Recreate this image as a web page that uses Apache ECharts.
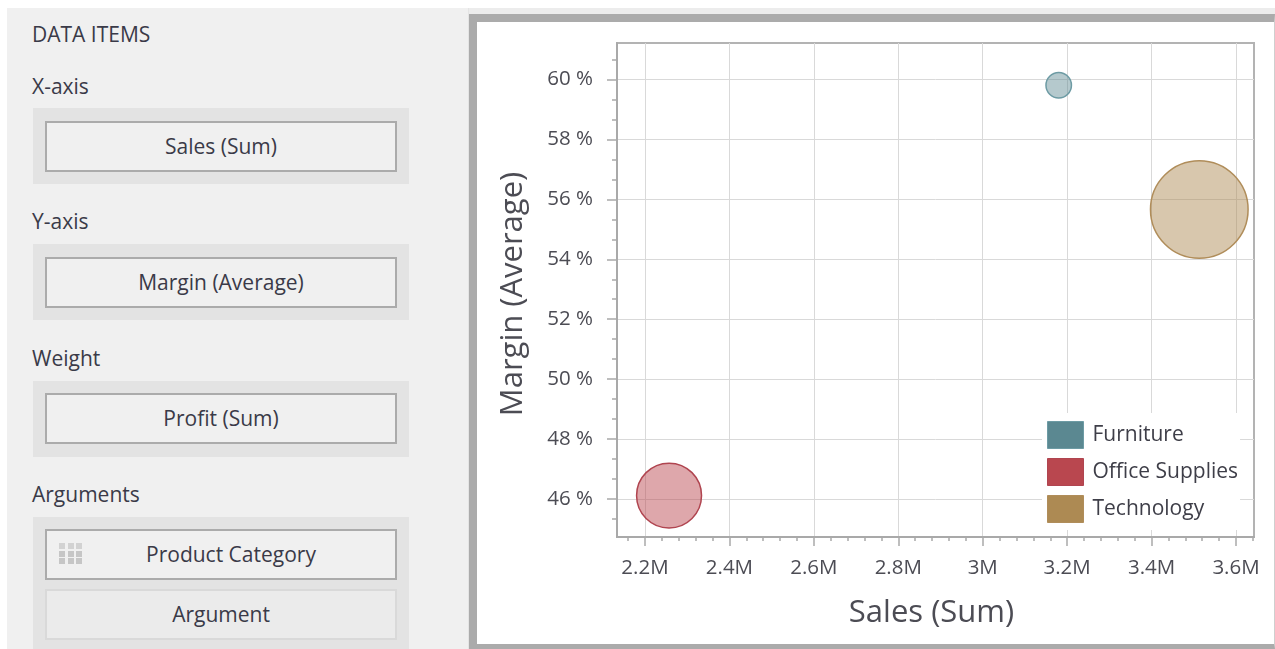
<!DOCTYPE html>
<html>
<head>
<meta charset="utf-8">
<script src="https://cdn.jsdelivr.net/npm/echarts@6/dist/echarts.min.js"></script>
<style>
html,body{margin:0;padding:0;background:#fff;width:1275px;height:649px;overflow:hidden;font-family:"Open Sans","Noto Sans",sans-serif;color:#3a3a48;}
.abs{position:absolute;}
#panel{left:7px;top:8px;width:461px;height:641px;background:#f0f0f0;border-right:1px solid #e4e4e4;}
#bg2{left:469px;top:8px;width:806px;height:641px;background:#ececec;}
#frame{left:469px;top:14px;width:797px;height:622px;border-left:8px solid #ababab;border-top:8px solid #ababab;border-bottom:5px solid #ababab;border-right:1px solid #cfcfcf;background:#fff;}
.lbl{font-size:21px;line-height:28px;left:32px;white-space:nowrap;}
.cont{left:33px;width:376px;height:76px;background:#e3e3e3;}
.btn{left:45px;width:348px;height:47px;border:2px solid #ababab;background:#f0f0f0;font-size:21px;line-height:47px;text-align:center;white-space:nowrap;}
.btn2{border-color:#d9d9d9;background:#ebebeb;}
.sq{width:6px;height:6px;background:#c6c6c6;}
#chart{left:0;top:0;width:1275px;height:649px;z-index:5;}
</style>
</head>
<body>
<div id="panel" class="abs"></div>
<div id="bg2" class="abs"></div>
<div id="frame" class="abs"></div>

<div class="abs lbl" style="top:20px;">DATA ITEMS</div>
<div class="abs lbl" style="top:72px;">X-axis</div>
<div class="abs cont" style="top:108px;"></div>
<div class="abs btn" style="top:121px;">Sales (Sum)</div>

<div class="abs lbl" style="top:207px;">Y-axis</div>
<div class="abs cont" style="top:244px;"></div>
<div class="abs btn" style="top:257px;">Margin (Average)</div>

<div class="abs lbl" style="top:344px;">Weight</div>
<div class="abs cont" style="top:381px;"></div>
<div class="abs btn" style="top:393px;">Profit (Sum)</div>

<div class="abs lbl" style="top:480px;">Arguments</div>
<div class="abs cont" style="top:517px;height:132px;"></div>
<div class="abs btn" style="top:529px;padding-left:20px;width:328px;">Product Category</div>
<div class="abs btn btn2" style="top:589px;">Argument</div>
<div id="icon" class="abs" style="left:59px;top:543px;width:24px;height:22px;"></div>

<div id="chart" class="abs"></div>

<script>
// ---- data ----
const categories = ['Furniture', 'Office Supplies', 'Technology'];
const salesSum = [3180000, 2257000, 3513000];
const marginAvg = [59.8, 46.12, 55.66];
const profitSum = [262000, 668000, 1004000];

// ---- axis ticks / labels ----
const xTickValues = [2200000, 2400000, 2600000, 2800000, 3000000, 3200000, 3400000, 3600000];
const yTickValues = [46, 48, 50, 52, 54, 56, 58, 60];
const xRange = [2133700, 3642600];
const yRange = [44.74, 61.21];

// ---- styles ----
const solidColors = ['#5b8891', '#b9474f', '#ad8a53'];
const borderColors = ['#6d9ba4', '#b04550', '#b08d5a'];
const fillColors = ['rgba(91,136,145,0.45)', 'rgba(185,71,79,0.48)', 'rgba(173,138,83,0.48)'];
const bubbleScale = 97.6 / 1004000;
const FONT = '"Open Sans","Noto Sans",sans-serif';

// grid icon
(function(){
  const ic = document.getElementById('icon');
  for (let r = 0; r < 3; r++) for (let c = 0; c < 3; c++) {
    const d = document.createElement('div');
    d.className = 'abs sq';
    d.style.left = (c * 8.5) + 'px';
    d.style.top = (r * 7.5) + 'px';
    if (r === 0) d.style.background = '#d2d2d2';
    ic.appendChild(d);
  }
})();

function minorValues(major, step, sub, range) {
  const out = [];
  const start = major[0] - step, end = major[major.length - 1] + step;
  for (let m = start; m < end - 1e-9; m += step) {
    for (let k = 1; k < sub; k++) {
      const v = m + step * k / sub;
      if (v > range[0] && v < range[1] && !major.some(t => Math.abs(t - v) < step * 1e-6)) out.push(v);
    }
  }
  return out;
}
const xMinor = minorValues(xTickValues, 200000, 5, xRange);
const yMinor = minorValues(yTickValues, 2, 3, yRange);

const axisColor = '#a9a9a9';
const labelColor = '#4c4c54';

const chart = echarts.init(document.getElementById('chart'), null, {renderer: 'canvas'});
chart.setOption({
  animation: false,
  backgroundColor: 'transparent',
  textStyle: {fontFamily: FONT},
  grid: {left: 617, top: 43, width: 637, height: 494, show: true, borderColor: '#b3b3b3', borderWidth: 2, backgroundColor: 'transparent', containLabel: false},
  legend: {
    orient: 'vertical', left: 1042, top: 413, padding: [8, 2, 7, 5],
    backgroundColor: '#ffffff', itemWidth: 36, itemHeight: 27, itemGap: 9, icon: 'rect',
    selectedMode: false,
    textStyle: {fontSize: 21, color: '#3e3e48', fontFamily: FONT, padding: [0, 0, 0, 4]},
    data: categories.map((c, i) => ({name: c, itemStyle: {color: solidColors[i], borderColor: borderColors[i], borderWidth: 1, opacity: 1}}))
  },
  xAxis: [{
    type: 'value', min: xRange[0], max: xRange[1], splitNumber: 7,
    name: 'Sales (Sum)', nameLocation: 'middle', nameGap: 61,
    nameTextStyle: {fontSize: 31, color: labelColor, fontFamily: FONT, padding: [0, 8, 0, 0]},
    axisLine: {show: true, onZero: false, lineStyle: {color: axisColor, width: 2}},
    axisTick: {show: true, length: 9, customValues: xTickValues, lineStyle: {color: axisColor, width: 1.5}},
    axisLabel: {customValues: xTickValues, formatter: v => (v / 1e6) + 'M', fontSize: 20.5, color: labelColor, margin: 21, fontFamily: FONT},
    splitLine: {show: true, lineStyle: {color: '#d9d9d9', width: 1}}
  }, {
    type: 'value', min: xRange[0], max: xRange[1], position: 'bottom', gridIndex: 0,
    axisLine: {show: false}, axisLabel: {show: false}, splitLine: {show: false},
    axisTick: {show: true, length: 4, customValues: xMinor, lineStyle: {color: axisColor, width: 1.5}}
  }],
  yAxis: [{
    type: 'value', min: yRange[0], max: yRange[1], splitNumber: 7,
    name: 'Margin (Average)', nameLocation: 'middle', nameGap: 88, nameRotate: 90,
    nameTextStyle: {fontSize: 31, color: labelColor, fontFamily: FONT, padding: [0, 8, 0, 0]},
    axisLine: {show: true, onZero: false, lineStyle: {color: axisColor, width: 2}},
    axisTick: {show: true, length: 10, customValues: yTickValues, lineStyle: {color: axisColor, width: 1.5}},
    axisLabel: {customValues: yTickValues, formatter: v => v + ' %', fontSize: 20.5, color: labelColor, margin: 24, fontFamily: FONT},
    splitLine: {show: true, lineStyle: {color: '#d9d9d9', width: 1}}
  }, {
    type: 'value', min: yRange[0], max: yRange[1], position: 'left', gridIndex: 0,
    axisLine: {show: false}, axisLabel: {show: false}, splitLine: {show: false},
    axisTick: {show: true, length: 5, customValues: yMinor, lineStyle: {color: axisColor, width: 1.5}}
  }],
  series: categories.map((c, i) => ({
    name: c, type: 'scatter', xAxisIndex: 0, yAxisIndex: 0,
    data: [[salesSum[i], marginAvg[i], profitSum[i]]],
    symbolSize: d => d[2] * bubbleScale,
    itemStyle: {color: fillColors[i], borderColor: borderColors[i], borderWidth: 1.5, opacity: 1},
    emphasis: {disabled: true}
  }))
});
</script>
</body>
</html>
